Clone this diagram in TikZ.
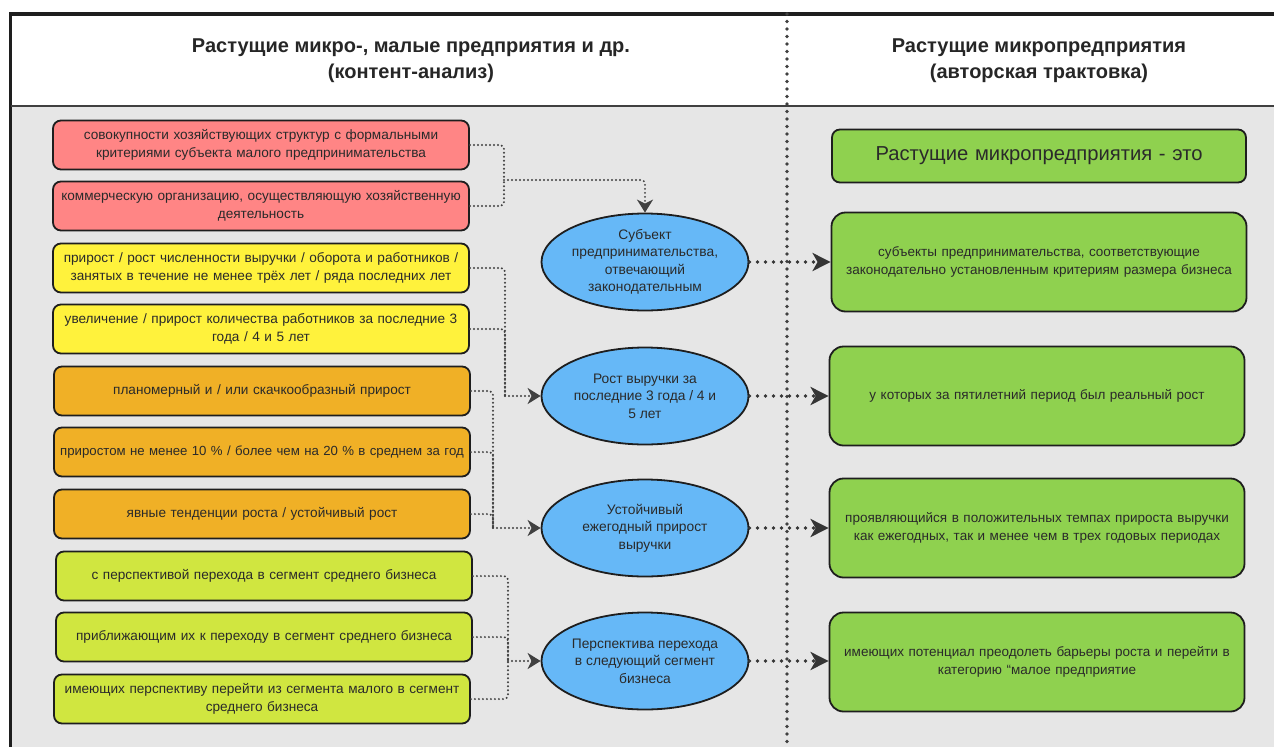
\documentclass[tikz,border=0pt]{standalone}
\usepackage{fontspec}
\setmainfont{Liberation Sans}
\usetikzlibrary{shapes.geometric,arrows.meta,positioning}

\definecolor{panel}{HTML}{E6E6E6}
\definecolor{edge}{HTML}{1E1E1E}
\definecolor{txt}{HTML}{2A2A2A}
\definecolor{cred}{HTML}{FF8585}
\definecolor{cyellow}{HTML}{FFF23C}
\definecolor{corange}{HTML}{F0B026}
\definecolor{clime}{HTML}{D0E640}
\definecolor{cblue}{HTML}{66B8F7}
\definecolor{cgreen}{HTML}{8FD14F}

\tikzset{
  src/.style={draw=edge, line width=1.8pt, rounded corners=8pt, minimum width=416pt,
    minimum height=49pt, text width=414pt, inner sep=1pt, align=center, text=txt,
    font=\fontsize{13.6}{17.5}\selectfont},
  res/.style={draw=edge, line width=1.8pt, rounded corners=14pt, minimum width=415pt,
    minimum height=99pt, text width=410pt, inner sep=2pt, align=center, text=txt,
    font=\fontsize{13.5}{17.5}\selectfont}
}

\begin{document}
\begin{tikzpicture}[x=1pt, y=-1pt,
    blob/.style={ellipse, draw=edge, line width=1.8pt, fill=cblue, minimum width=207pt,
      minimum height=97pt, inner sep=0pt, align=center, text=txt,
      font=\fontsize{13.8}{17.5}\selectfont},
    link/.style={draw=edge!85, line width=2.2pt, line cap=round, dash pattern=on 0pt off 4pt,
      rounded corners=4pt},
    tip/.style={-{Stealth[length=13pt, width=16pt, inset=4pt]}},
    arr/.style={draw=edge!90, line width=3.8pt, line cap=round, dash pattern=on 0pt off 8pt,
      -{Stealth[length=18pt, width=18pt, inset=5pt]}},
    ttl/.style={align=center, text=black!85, font=\fontsize{20}{26}\selectfont\bfseries}
  ]
  \useasboundingbox (0,0) rectangle (1274,747);
  \fill[white] (0,0) rectangle (1274,747);
  \fill[panel] (11,106) rectangle (1274,747);

  % frame and headings
  \draw[edge, line width=3.5pt] (1274,14) -- (10.5,14) -- (10.5,747);
  \draw[edge!85, line width=2.5pt] (11,106) -- (1274,106);
  \draw[edge!85, line width=3.8pt, line cap=round, dash pattern=on 0pt off 7.5pt] (787,14) -- (787,747);
  \node[ttl] (t1) at (411,61) {Растущие микро-, малые предприятия и др.\\(контент-анализ)};
  \node[ttl] (t2) at (1039,61) {Растущие микропредприятия\\(авторская трактовка)};

  % content analysis
  \node[src, fill=cred]    (r1) at (261,145) {совокупности хозяйствующих структур с формальными\\критериями субъекта малого предпринимательства};
  \node[src, fill=cred]    (r2) at (261,206) {коммерческую организацию, осуществляющую хозяйственную\\деятельность};
  \node[src, fill=cyellow] (y1) at (261,268) {прирост / рост численности выручки / оборота и работников /\\занятых в течение не менее трёх лет / ряда последних лет};
  \node[src, fill=cyellow] (y2) at (261,329) {увеличение / прирост количества работников за последние 3\\года / 4 и 5 лет};
  \node[src, fill=corange] (o1) at (262,391) {планомерный и / или скачкообразный прирост};
  \node[src, fill=corange, font=\fontsize{13.2}{17}\selectfont] (o2) at (262,452) {приростом не менее 10 \% / более чем на 20 \% в среднем за год};
  \node[src, fill=corange] (o3) at (262,514) {явные тенденции роста / устойчивый рост};
  \node[src, fill=clime]   (l1) at (264,576) {с перспективой перехода в сегмент среднего бизнеса};
  \node[src, fill=clime]   (l2) at (264,637) {приближающим их к переходу в сегмент среднего бизнеса};
  \node[src, fill=clime]   (l3) at (262,699) {имеющих перспективу перейти из сегмента малого в сегмент\\среднего бизнеса};

  % summary ellipses
  \node[blob] (e1) at (645,262) {Субъект\\предпринимательства,\\отвечающий\\законодательным};
  \node[blob] (e2) at (645,396) {Рост выручки за\\последние 3 года / 4 и\\5 лет};
  \node[blob] (e3) at (645,528) {Устойчивый\\ежегодный прирост\\выручки};
  \node[blob] (e4) at (645,661) {Перспектива перехода\\в следующий сегмент\\бизнеса};

  % author's view
  \node[res, fill=cgreen, minimum width=412pt, minimum height=53pt, rounded corners=8pt,
    font=\fontsize{20.2}{24}\selectfont] (g0) at (1039,156) {Растущие микропредприятия - это};
  \node[res, fill=cgreen] (g1) at (1039,262) {субъекты предпринимательства, соответствующие\\законодательно установленным критериям размера бизнеса};
  \node[res, fill=cgreen] (g2) at (1037,396) {у которых за пятилетний период был реальный рост};
  \node[res, fill=cgreen] (g3) at (1037,528) {проявляющийся в положительных темпах прироста выручки\\как ежегодных, так и менее чем в трех годовых периодах};
  \node[res, fill=cgreen] (g4) at (1037,662) {имеющих потенциал преодолеть барьеры роста и перейти в\\категорию “малое предприятие};

  % joins
  \coordinate (j1) at (504,180);
  \coordinate (j2) at (505,396);
  \coordinate (j3) at (493,528);
  \coordinate (j4) at (508,661);
  \foreach \b in {r1,r2} \draw[link] (\b.east) -| (j1);
  \foreach \b in {y1,y2} \draw[link] (\b.east) -| (j2);
  \foreach \b in {o1,o2,o3} \draw[link] (\b.east) -| (j3);
  \foreach \b in {l1,l2,l3} \draw[link] (\b.east) -| (j4);
  \draw[link, tip] (j1) -| (e1.north);
  \draw[link, tip] (j2) -- (e2.west);
  \draw[link, tip] (j3) -- (e3.west);
  \draw[link, tip] (j4) -- (e4.west);

  \foreach \i in {1,...,4}
    \draw[arr] (e\i.east) -- (e\i.east -| g\i.west);
\end{tikzpicture}
\end{document}
